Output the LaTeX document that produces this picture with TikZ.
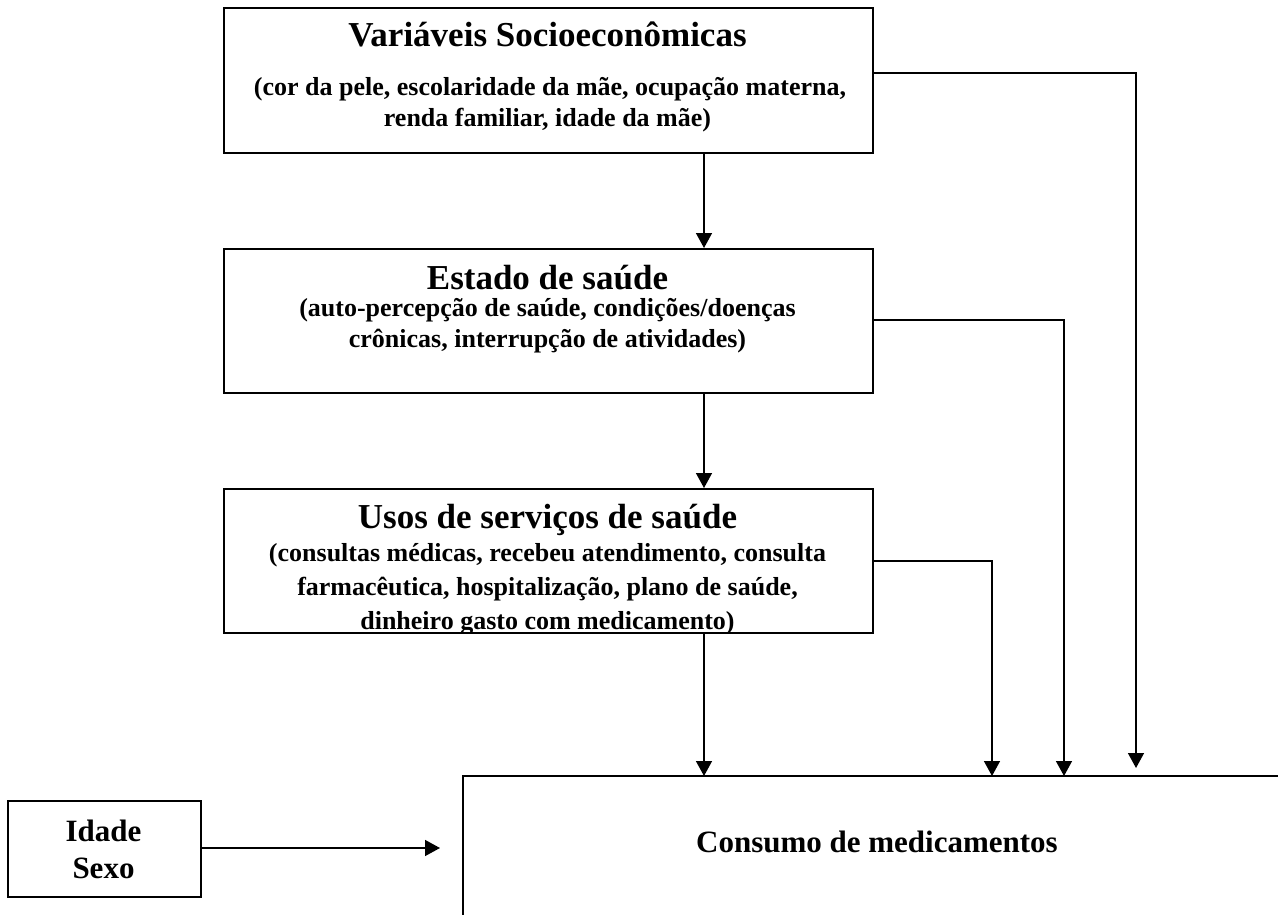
\documentclass[tikz,border=0pt]{standalone}
\usepackage{fontspec}
\setmainfont{Liberation Serif}
\usetikzlibrary{arrows.meta}
\begin{document}
\begin{tikzpicture}[x=1pt,y=-1pt,
  box/.style={draw=black,line width=1.9pt,fill=none},
  conn/.style={draw=black,line width=1.5pt,-{Triangle[width=16pt,length=15pt]}},
  ttl/.style={anchor=base,inner sep=0pt,font=\fontsize{35}{40}\selectfont\bfseries},
  sub/.style={anchor=base,inner sep=0pt,font=\fontsize{26}{30}\selectfont\bfseries},
  big/.style={anchor=base,inner sep=0pt,font=\fontsize{31}{36}\selectfont\bfseries}]
\useasboundingbox (0,0) rectangle (1278,915);
% boxes
\node[box,minimum width=649pt,minimum height=145pt,anchor=north west,inner sep=0pt] (b1) at (223,7) {};
\node[box,minimum width=649pt,minimum height=144pt,anchor=north west,inner sep=0pt] (b2) at (223,248) {};
\node[box,minimum width=649pt,minimum height=144pt,anchor=north west,inner sep=0pt] (b3) at (223,488) {};
\node[box,minimum width=193pt,minimum height=96pt,anchor=north west,inner sep=0pt] (bi) at (7,800) {};
% box 1 text
\node[ttl] (t1a) at (547.5,47) {Variáveis Socioeconômicas};
\node[sub] (t1b) at (550,96) {(cor da pele, escolaridade da mãe, ocupação materna,};
\node[sub] (t1c) at (547.5,127) {renda familiar, idade da mãe)};
% box 2 text
\node[ttl] (t2a) at (547.5,289) {Estado de saúde};
\node[sub] (t2b) at (547.5,316) {(auto-percepção de saúde, condições/doenças};
\node[sub] (t2c) at (547.5,347) {crônicas, interrupção de atividades)};
% box 3 text
\begin{scope}
\clip (224,489) rectangle (871,631);
\node[ttl] (t3a) at (547.5,528) {Usos de serviços de saúde};
\node[sub] (t3b) at (547.5,561) {(consultas médicas, recebeu atendimento, consulta};
\node[sub] (t3c) at (547.5,595) {farmacêutica, hospitalização, plano de saúde,};
\node[sub] (t3d) at (547.5,629) {dinheiro gasto com medicamento)};
\end{scope}
% idade sexo
\node[big] (ti1) at (103.5,841) {Idade};
\node[big] (ti2) at (103.5,878) {Sexo};
% consumo box (open)
\coordinate (cl) at (463,915);
\coordinate (ctl) at (463,776);
\coordinate (ctr) at (1278,776);
\draw[line width=1.9pt] (cl) -- (ctl) -- (ctr);
\node[big,anchor=base east] (tc) at (1058,852) {Consumo de medicamentos};
% vertical arrows
\draw[conn] (b1.south -| 704,0) -- (b2.north -| 704,0);
\draw[conn] (b2.south -| 704,0) -- (b3.north -| 704,0);
\coordinate (d1) at (704,776);
\draw[conn] (b3.south -| 704,0) -- (d1);
% right connectors
\coordinate (r1) at (1136,73);
\coordinate (e1) at (1136,768);
\draw[conn] (b1.east |- r1) -- (r1) -- (e1);
\coordinate (r2) at (1064,320);
\coordinate (e2) at (1064,776);
\draw[conn] (b2.east |- r2) -- (r2) -- (e2);
\coordinate (r3) at (992,561);
\coordinate (e3) at (992,776);
\draw[conn] (b3.east |- r3) -- (r3) -- (e3);
% idade arrow
\coordinate (ia) at (440,848);
\draw[conn] (bi.east |- ia) -- (ia);
\end{tikzpicture}
\end{document}
